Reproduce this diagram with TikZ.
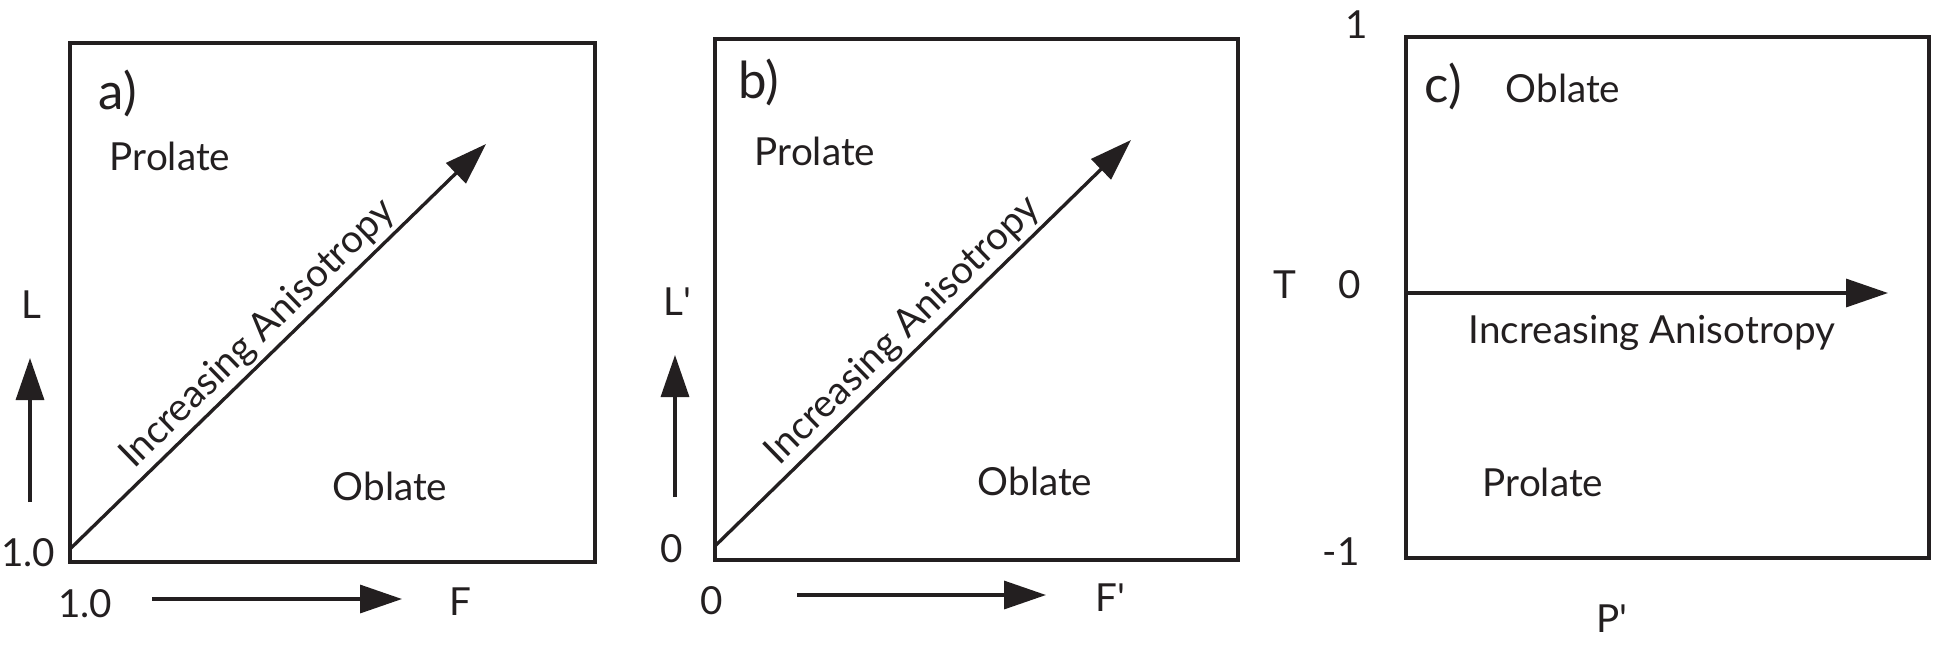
\documentclass[tikz,border=0pt]{standalone}
\usepackage{fontspec}
\setmainfont{Lato}
\usepackage{tikz}
\usetikzlibrary{arrows.meta}
\usetikzlibrary{positioning}
\definecolor{ink}{HTML}{231F20}

\begin{document}
\begin{tikzpicture}[
    x=0.02cm, y=-0.02cm,
    font=\fontsize{22}{26}\selectfont
]
\tikzset{
    panel/.style = {draw=ink, line width=2.3pt},
    lbl/.style = {text=ink, inner sep=0pt},
    tag/.style = {lbl, font=\fontsize{29}{34}\selectfont},
    arr/.style = {-{Triangle[length=0.84cm,width=0.56cm]}, draw=ink, line width=1.9pt}
}
\useasboundingbox (0,0) rectangle (1933,647);
% panel a
\draw[panel] (70,43) rectangle (595,562);
\coordinate (a0) at (70,549);
\coordinate (a1) at (486,144);
\draw[arr] (a0) -- node[lbl, sloped, above=2pt, pos=.49] (ainc) {Increasing Anisotropy} (a1);
\node[tag] at (118,93) (atag) {a)};
\node[lbl] at (170,156) (apro) {Prolate};
\node[lbl] at (390,486) (aobl) {Oblate};
\node[lbl] at (31,305) (aL) {L};
\coordinate (aup0) at (30,502);
\coordinate (aup1) at (30,358);
\draw[arr] (aup0) -- (aup1);
\node[lbl] at (28,553) (ay0) {1.0};
\node[lbl] at (85,604) (ax0) {1.0};
\coordinate (art0) at (152,599);
\coordinate (art1) at (402,599);
\draw[arr] (art0) -- (art1);
\node[lbl] at (460,602) (aF) {F};
% panel b
\draw[panel] (715,39) rectangle (1238,560);
\coordinate (b0) at (715,546);
\coordinate (b1) at (1131,140);
\draw[arr] (b0) -- node[lbl, sloped, above=2pt, pos=.49] (binc) {Increasing Anisotropy} (b1);
\node[tag] at (759,82) (btag) {b)};
\node[lbl] at (815,151) (bpro) {Prolate};
\node[lbl] at (1035,481) (bobl) {Oblate};
\node[lbl] at (677,302) (bL) {L\textquotesingle};
\coordinate (bup0) at (675,497);
\coordinate (bup1) at (675,355);
\draw[arr] (bup0) -- (bup1);
\node[lbl] at (672,549) (by0) {0};
\node[lbl] at (712,601) (bx0) {0};
\coordinate (brt0) at (797,595);
\coordinate (brt1) at (1046,595);
\draw[arr] (brt0) -- (brt1);
\node[lbl] at (1110,598) (bF) {F\textquotesingle};
% panel c
\draw[panel] (1406,37) rectangle (1929,558);
\node[lbl] at (1285,285) (cT) {T};
\node[lbl] at (1357,25) (cy1) {1};
\node[lbl] at (1350,285) (cy0) {0};
\node[lbl] at (1341,552) (cym) {-1};
\coordinate (c0) at (1406,293);
\coordinate (c1) at (1888,293);
\draw[arr] (c0) -- (c1);
\node[lbl] at (1652,333) (cinc) {Increasing Anisotropy};
\node[tag] at (1443,86) (ctag) {c)};
\node[lbl] at (1563,88) (cobl) {Oblate};
\node[lbl] at (1543,482) (cpro) {Prolate};
\node[lbl] at (1612,619) (cP) {P\textquotesingle};
\end{tikzpicture}
\end{document}
